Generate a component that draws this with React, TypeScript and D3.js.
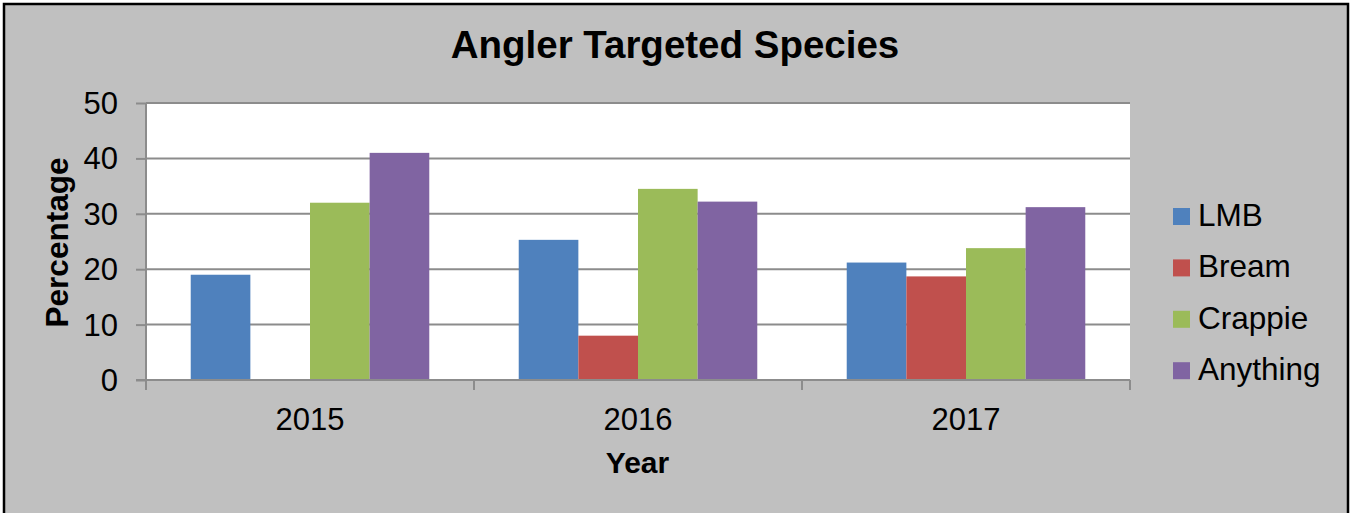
import React, { useEffect, useRef } from 'react';
import * as d3 from 'd3';

const years = ['2015', '2016', '2017'];
const species = ['LMB', 'Bream', 'Crappie', 'Anything'];
const lmb = [19, 25.3, 21.2];
const bream = [0, 8, 18.7];
const crappie = [32, 34.5, 23.8];
const anything = [41, 32.2, 31.2];
const yTicks = [0, 10, 20, 30, 40, 50];
const colors = ['#4F81BD', '#C0504D', '#9BBB59', '#8064A2'];

const App = () => {
  const svgRef = useRef<SVGSVGElement | null>(null);

  useEffect(() => {
    if (!svgRef.current) return;
    const svg = d3.select(svgRef.current);
    svg.selectAll('*').remove();

    const width = 1354;
    const height = 513;
    const plot = { left: 146, right: 1130, top: 103, bottom: 380 };
    const font = '"Liberation Sans", Arial, sans-serif';
    const series = [lmb, bream, crappie, anything];

    svg.attr('width', width).attr('height', height).style('font-family', font);

    // background and outer border
    svg.append('rect').attr('width', width).attr('height', height).attr('fill', '#ffffff');
    svg.append('rect')
      .attr('x', 4).attr('y', 4)
      .attr('width', 1344).attr('height', 530)
      .attr('fill', '#c0c0c0')
      .attr('stroke', '#000').attr('stroke-width', 2.5);

    const x = d3.scaleBand().domain(years).range([plot.left, plot.right]).padding(0);
    const step = x.bandwidth();
    const gap = step * 1.5 / 5.5;
    const xs = d3.scaleBand().domain(species).range([gap / 2, step - gap / 2]).padding(0);
    const y = d3.scaleLinear().domain([0, 50]).range([plot.bottom, plot.top]);

    // plot area
    svg.append('rect')
      .attr('x', plot.left).attr('y', plot.top)
      .attr('width', plot.right - plot.left).attr('height', plot.bottom - plot.top)
      .attr('fill', '#ffffff');

    // gridlines
    svg.append('g')
      .selectAll('line')
      .data(yTicks.filter(d => d > 0))
      .join('line')
      .attr('x1', plot.left).attr('x2', plot.right)
      .attr('y1', d => y(d)).attr('y2', d => y(d))
      .attr('stroke', '#8c8c8c').attr('stroke-width', 2);

    // bars
    years.forEach((yr, i) => {
      svg.append('g')
        .selectAll('rect')
        .data(species.map((s, j) => ({ s, v: series[j][i], c: colors[j] })).filter(d => d.v > 0))
        .join('rect')
        .attr('x', d => (x(yr) as number) + (xs(d.s) as number))
        .attr('width', xs.bandwidth())
        .attr('y', d => y(d.v))
        .attr('height', d => y(0) - y(d.v))
        .attr('fill', d => d.c);
    });

    // y axis
    const yAxis = svg.append('g')
      .attr('transform', `translate(${plot.left},0)`)
      .call(d3.axisLeft(y).tickValues(yTicks).tickSize(10).tickPadding(18));
    yAxis.select('.domain').attr('stroke', '#8c8c8c').attr('stroke-width', 2)
      .attr('d', `M0,${plot.bottom}V${plot.top}`);
    yAxis.selectAll('.tick line').attr('stroke', '#8c8c8c').attr('stroke-width', 2);
    yAxis.selectAll('.tick text')
      .attr('font-size', 31).attr('font-family', font).attr('fill', '#000').attr('dy', '0.34em');

    // x axis
    const xAxis = svg.append('g')
      .attr('transform', `translate(0,${plot.bottom})`);
    xAxis.append('line')
      .attr('x1', plot.left - 10).attr('x2', plot.right)
      .attr('stroke', '#8c8c8c').attr('stroke-width', 2);
    xAxis.selectAll('line.tk')
      .data([...years.map(d => x(d) as number), plot.right])
      .join('line')
      .attr('class', 'tk')
      .attr('x1', d => d).attr('x2', d => d)
      .attr('y1', 0).attr('y2', 10)
      .attr('stroke', '#8c8c8c').attr('stroke-width', 2);
    xAxis.selectAll('text')
      .data(years)
      .join('text')
      .attr('x', d => (x(d) as number) + step / 2)
      .attr('y', 50)
      .attr('text-anchor', 'middle')
      .attr('font-size', 31)
      .text(d => d);

    // titles
    svg.append('text')
      .attr('x', 675).attr('y', 58)
      .attr('text-anchor', 'middle')
      .attr('font-size', 38.5).attr('font-weight', 'bold')
      .text('Angler Targeted Species');

    svg.append('text')
      .attr('x', 637.5).attr('y', 473)
      .attr('text-anchor', 'middle')
      .attr('font-size', 30).attr('font-weight', 'bold')
      .text('Year');

    svg.append('text')
      .attr('transform', 'translate(68,242.5) rotate(-90)')
      .attr('text-anchor', 'middle')
      .attr('font-size', 31.5).attr('font-weight', 'bold')
      .text('Percentage');

    // legend
    const legend = svg.append('g').attr('transform', 'translate(1173,0)');
    species.forEach((s, i) => {
      const base = 226 + i * 51.4;
      legend.append('rect')
        .attr('x', 0).attr('y', base - 18)
        .attr('width', 17).attr('height', 17)
        .attr('fill', colors[i]);
      legend.append('text')
        .attr('x', 25).attr('y', base)
        .attr('font-size', 31.5)
        .text(s);
    });
  }, []);

  return (
    <div style={{ position: 'absolute', left: 0, top: 0 }}>
      <svg ref={svgRef}></svg>
    </div>
  );
};

export default App;
